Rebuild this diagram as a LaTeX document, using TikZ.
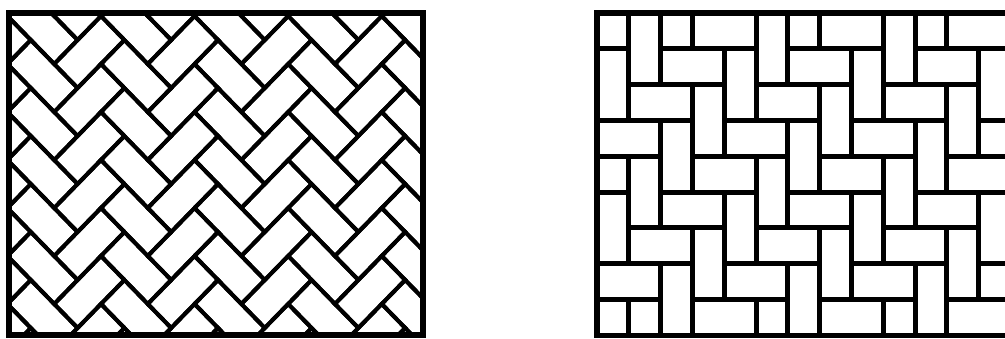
\documentclass[tikz,border=0pt]{standalone}
\begin{document}
\begin{tikzpicture}[
    x=0.5pt, y=0.5pt,
    brick/.style={draw=black, line width=2pt},
    weave/.style={draw=black, line width=2.5pt},
    frame/.style={draw=black, line width=2.6pt},
  ]

  \useasboundingbox (0,0) rectangle (1005,338);

  % (a) herringbone, bricks laid at 45 degrees
  \begin{scope}
    \clip (9,3) rectangle (423,325);
    \begin{scope}[shift={(77.6,250)}, yscale=1.0256, rotate=45, scale=33.09]
      \foreach \k in {-8,...,4} {
        \foreach \m in {-3,...,6} {
          \draw[brick] ({\k+2*\m},{\k-2*\m}) rectangle ++(2,1);
          \draw[brick] ({\k+2*\m+2},{\k-2*\m-1}) rectangle ++(1,2);
        }
      }
    \end{scope}
  \end{scope}
  \draw[frame] (9,3) rectangle (423,325);

  % (b) pinwheel bond on a half-brick grid
  \begin{scope}[shift={(298.5pt,162.5pt)}, x=15.9pt, y=-17.9pt]
    \begin{scope}
      \clip (0,0) rectangle (13,9);
      \foreach \i in {-2,...,13} {
        \foreach \j in {-2,...,9} {
          \pgfmathtruncatemacro\r{mod(\i+\j+8,4)}
          \ifnum\r=3 \draw[weave] (\i,\j) rectangle ++(2,1); \fi
          \ifnum\r=1 \draw[weave] (\i,\j) rectangle ++(1,2); \fi
        }
      }
    \end{scope}
    \draw[frame] (0,0) rectangle (13,9);
  \end{scope}

\end{tikzpicture}
\end{document}
